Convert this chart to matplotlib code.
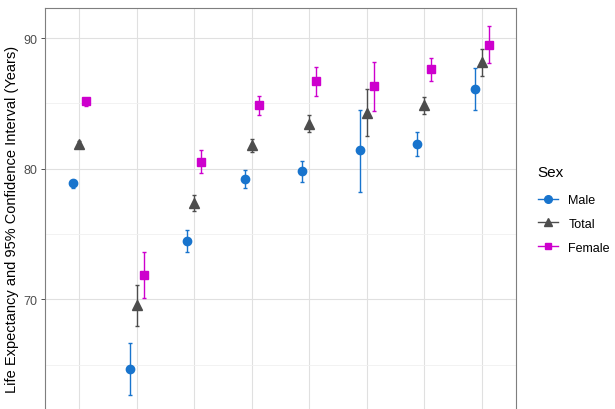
import matplotlib
matplotlib.use("Agg")
import matplotlib.pyplot as plt
from matplotlib.lines import Line2D
import numpy as np

plt.rcParams['font.family'] = ['Liberation Sans', 'DejaVu Sans']

# eight groups, x labels are cropped out of the reference
groups = [1, 2, 3, 4, 5, 6, 7, 8]

male = [78.9, 64.7, 74.5, 79.2, 79.8, 81.4, 81.9, 86.1]
male_lo = [78.5, 62.7, 73.6, 78.5, 79.0, 78.2, 81.0, 84.5]
male_hi = [79.1, 66.7, 75.3, 79.9, 80.6, 84.5, 82.8, 87.7]

total = [81.9, 69.6, 77.4, 81.8, 83.4, 84.3, 84.9, 88.2]
total_lo = [81.7, 68.0, 76.8, 81.3, 82.8, 82.5, 84.2, 87.1]
total_hi = [82.1, 71.1, 78.0, 82.3, 84.1, 86.1, 85.5, 89.2]

female = [85.2, 71.9, 80.5, 84.9, 86.7, 86.3, 87.6, 89.5]
female_lo = [84.8, 70.1, 79.7, 84.1, 85.6, 84.4, 86.7, 88.1]
female_hi = [85.4, 73.6, 81.4, 85.6, 87.8, 88.2, 88.5, 90.9]

series = [
    ("Male", male, male_lo, male_hi, "#1874CD", "o", 6.0, -0.12),
    ("Total", total, total_lo, total_hi, "#4D4D4D", "^", 6.5, 0.0),
    ("Female", female, female_lo, female_hi, "#CD00CD", "s", 5.5, 0.12),
]

fig = plt.figure(figsize=(6.15, 4.1), dpi=100)
ax = fig.add_axes([0.0732, -0.05, 0.766, 1.028])

x = np.array(groups, dtype=float)
handles = []
for name, v, lo, hi, col, mk, ms, off in series:
    v = np.array(v); lo = np.array(lo); hi = np.array(hi)
    ax.errorbar(x + off, v, yerr=[v - lo, hi - v], fmt="none", ecolor=col,
                elinewidth=1.0, capsize=1.6, capthick=1.0, zorder=3)
    ax.plot(x + off, v, linestyle="none", marker=mk, markersize=ms,
            color=col, zorder=4)
    handles.append(Line2D([0], [0], color=col, marker=mk, markersize=ms - 0.5, lw=1.0, label=name))

ax.set_xlim(0.4, 8.6)
ax.set_ylim(60.05, 92.3)
ax.set_xticks(x)
ax.set_xticklabels([])
ax.set_yticks([70, 80, 90])
ax.set_yticks([65, 75, 85], minor=True)
ax.tick_params(axis="y", which="major", labelsize=9, labelcolor="#4D4D4D",
               color="#333333", length=3, width=0.6, pad=2.5)
ax.tick_params(axis="y", which="minor", length=0)
ax.tick_params(axis="x", length=0)
ax.grid(True, which="major", color="#E0E0E0", lw=0.8)
ax.grid(True, which="minor", axis="y", color="#F0F0F0", lw=0.6)
ax.set_axisbelow(True)
for s in ax.spines.values():
    s.set_color("#7F7F7F")
    s.set_linewidth(0.8)

ax.set_ylabel("Life Expectancy and 95% Confidence Interval (Years)", fontsize=10.5,
              labelpad=3)

# legend title placed separately to match ggplot spacing
fig.text(0.8745, 1 - 173 / 410, "Sex", fontsize=11, va="center", ha="left")
fig.legend(handles=handles, loc="upper left",
           bbox_to_anchor=(0.857, 0.552), frameon=False, fontsize=9,
           handlelength=1.6, labelspacing=0.95, handletextpad=0.8)

fig.savefig("out.png", dpi=100)
